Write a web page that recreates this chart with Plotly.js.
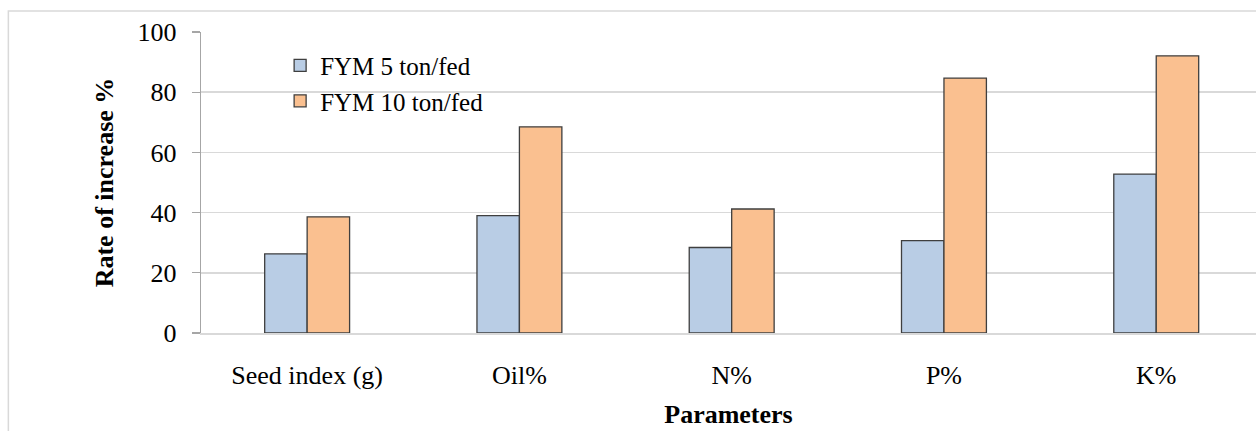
<!DOCTYPE html>
<html>
<head>
<meta charset="utf-8">
<script src="https://cdn.plot.ly/plotly-3.0.1.min.js"></script>
<style>
  html, body { margin: 0; padding: 0; background: #ffffff; overflow: hidden; }
  #chart { width: 1256px; height: 431px; }
</style>
</head>
<body>
<div id="chart"></div>
<script>
// Rate of increase (%) per parameter for two FYM application rates
const parameters = ['Seed index (g)', 'Oil%', 'N%', 'P%', 'K%'];
const fym5 = [26.3, 39.0, 28.4, 30.7, 52.8];
const fym10 = [38.6, 68.5, 41.2, 84.7, 92.1];
const seriesNames = ['FYM 5 ton/fed', 'FYM 10 ton/fed'];
const yTicks = [0, 20, 40, 60, 80, 100];

const serif = '"Liberation Serif", "Times New Roman", serif';

const traces = [
  {
    type: 'bar', name: seriesNames[0], x: parameters, y: fym5,
    marker: { color: '#b9cde5', line: { color: '#3f3f3f', width: 1.3 } }
  },
  {
    type: 'bar', name: seriesNames[1], x: parameters, y: fym10,
    marker: { color: '#fac090', line: { color: '#3f3f3f', width: 1.3 } }
  }
];

const layout = {
  width: 1256, height: 431,
  margin: { l: 201, r: 0, t: 32, b: 98 },
  paper_bgcolor: '#ffffff', plot_bgcolor: '#ffffff',
  font: { family: serif, color: '#000000', size: 25 },
  barmode: 'group',
  bargap: 0.6, bargroupgap: 0,
  showlegend: true,
  legend: {
    x: 0.075, y: 0.965, xanchor: 'left', yanchor: 'top',
    bgcolor: 'rgba(0,0,0,0)', font: { family: serif, size: 25, color: '#000' },
    itemwidth: 30, tracegroupgap: 0
  },
  xaxis: {
    type: 'category', range: [-0.5, 4.47],
    showgrid: false, zeroline: false,
    showline: true, linecolor: '#d9d9d9', linewidth: 1.5,
    ticks: '', ticklabelstandoff: 18,
    tickfont: { family: serif, size: 26, color: '#000' },
    title: { text: '<b>Parameters</b>', font: { family: serif, size: 26, color: '#000' }, standoff: 16 }
  },
  yaxis: {
    range: [0, 100], tickvals: yTicks,
    showgrid: true, gridcolor: '#d9d9d9', gridwidth: 1.5,
    zeroline: false,
    showline: true, linecolor: '#a6a6a6', linewidth: 1.3,
    ticks: 'outside', ticklen: 8, tickcolor: '#a6a6a6', tickwidth: 1.3,
    ticklabelstandoff: 10,
    tickfont: { family: serif, size: 26, color: '#000' },
    title: { text: '<b>Rate of increase %</b>', font: { family: serif, size: 26, color: '#000' }, standoff: 16 }
  },
  shapes: [
    // light frame around the whole chart
    {
      type: 'rect', xref: 'paper', yref: 'paper',
      x0: -0.1826, x1: 1.2, y0: -0.6, y1: 1.07,
      line: { color: '#d9d9d9', width: 1.5 }, fillcolor: 'rgba(0,0,0,0)', layer: 'below'
    }
  ]
};

Plotly.newPlot('chart', traces, layout, { staticPlot: true, displayModeBar: false });
</script>
</body>
</html>
